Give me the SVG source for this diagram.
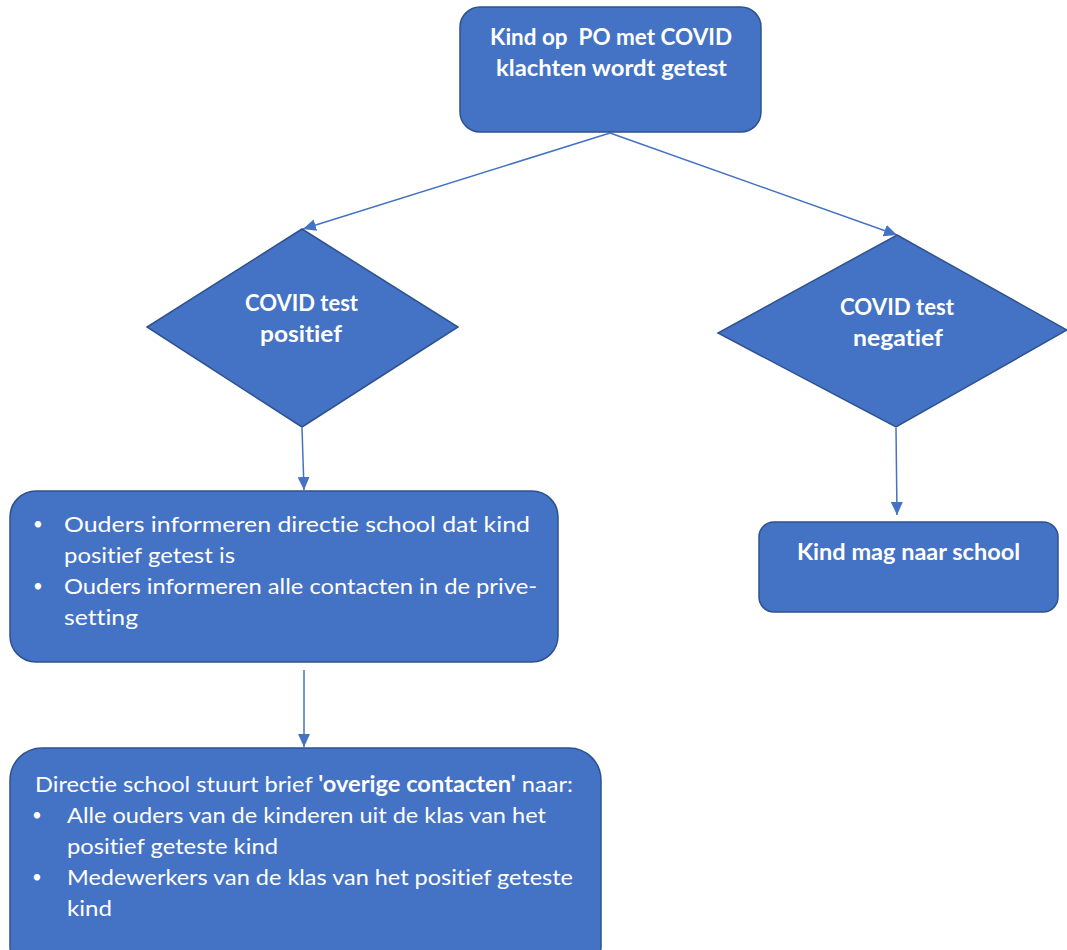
<svg xmlns="http://www.w3.org/2000/svg" width="1067" height="950" viewBox="0 0 1067 950">
<style>
.n{fill:#4472C4;stroke:#2F528F;stroke-width:1.5}
.t{font-family:Lato,"Open Sans",sans-serif;font-size:22px;fill:#fff;font-variant-ligatures:none;font-feature-settings:"liga" 0}
.b{font-weight:bold}
.d{font-family:Lato,"Open Sans",sans-serif;font-size:17px;fill:#fff}
.e{stroke:#4472C4;stroke-width:1.5;fill:none}
</style>
<defs>
<marker id="ah" markerUnits="userSpaceOnUse" markerWidth="14" markerHeight="12" refX="13" refY="6" orient="auto"><path d="M0,0 L13,6 L0,12 z" fill="#4472C4"/></marker>
</defs>
<rect width="1067" height="950" fill="#fff"/>
<g id="connectors">
<line class="e" x1="610" y1="133" x2="303" y2="229" marker-end="url(#ah)"/>
<line class="e" x1="610" y1="133" x2="897" y2="235" marker-end="url(#ah)"/>
<line class="e" x1="302" y1="428" x2="304" y2="490" marker-end="url(#ah)"/>
<line class="e" x1="896" y1="428" x2="897" y2="515" marker-end="url(#ah)"/>
<line class="e" x1="304" y1="670" x2="304" y2="747" marker-end="url(#ah)"/>
</g>
<g id="start">
<rect class="n" x="460" y="7" width="301" height="125" rx="20"/>
<text class="t b" x="490" y="45" textLength="242" lengthAdjust="spacingAndGlyphs" xml:space="preserve">Kind op  PO met COVID</text>
<text class="t b" x="496" y="76" textLength="231" lengthAdjust="spacingAndGlyphs">klachten wordt getest</text>
</g>
<g id="positief">
<polygon class="n" points="302,229 458,327 302,427 147,327"/>
<text class="t b" x="245" y="311" textLength="113" lengthAdjust="spacingAndGlyphs">COVID test</text>
<text class="t b" x="260" y="342" textLength="82" lengthAdjust="spacingAndGlyphs">positief</text>
</g>
<g id="negatief">
<polygon class="n" points="897,235 1067,330 896,427 718,333"/>
<text class="t b" x="840" y="315" textLength="114" lengthAdjust="spacingAndGlyphs">COVID test</text>
<text class="t b" x="853" y="346" textLength="90" lengthAdjust="spacingAndGlyphs">negatief</text>
</g>
<g id="informeren">
<rect class="n" x="10" y="491" width="548" height="171" rx="26"/>
<text class="d" x="33" y="530">•</text>
<text class="t" x="64" y="532" textLength="466" lengthAdjust="spacingAndGlyphs">Ouders informeren directie school dat kind</text>
<text class="t" x="64" y="563" textLength="171" lengthAdjust="spacingAndGlyphs">positief getest is</text>
<text class="d" x="33" y="592">•</text>
<text class="t" x="64" y="594" textLength="473" lengthAdjust="spacingAndGlyphs">Ouders informeren alle contacten in de prive-</text>
<text class="t" x="64" y="625" textLength="74" lengthAdjust="spacingAndGlyphs">setting</text>
</g>
<g id="school">
<rect class="n" x="759" y="522" width="299" height="90" rx="15"/>
<text class="t b" x="797" y="560" textLength="223" lengthAdjust="spacingAndGlyphs">Kind mag naar school</text>
</g>
<g id="brief">
<rect class="n" x="10" y="748" width="591" height="230" rx="32"/>
<text class="t" x="35" y="792" textLength="538" lengthAdjust="spacingAndGlyphs">Directie school stuurt brief <tspan class="b">'overige contacten'</tspan> naar:</text>
<text class="d" x="32" y="821">•</text>
<text class="t" x="67" y="823" textLength="479" lengthAdjust="spacingAndGlyphs">Alle ouders van de kinderen uit de klas van het</text>
<text class="t" x="67" y="854" textLength="211" lengthAdjust="spacingAndGlyphs">positief geteste kind</text>
<text class="d" x="32" y="883">•</text>
<text class="t" x="67" y="885" textLength="506" lengthAdjust="spacingAndGlyphs">Medewerkers van de klas van het positief geteste</text>
<text class="t" x="67" y="916" textLength="45" lengthAdjust="spacingAndGlyphs">kind</text>
</g>
</svg>
